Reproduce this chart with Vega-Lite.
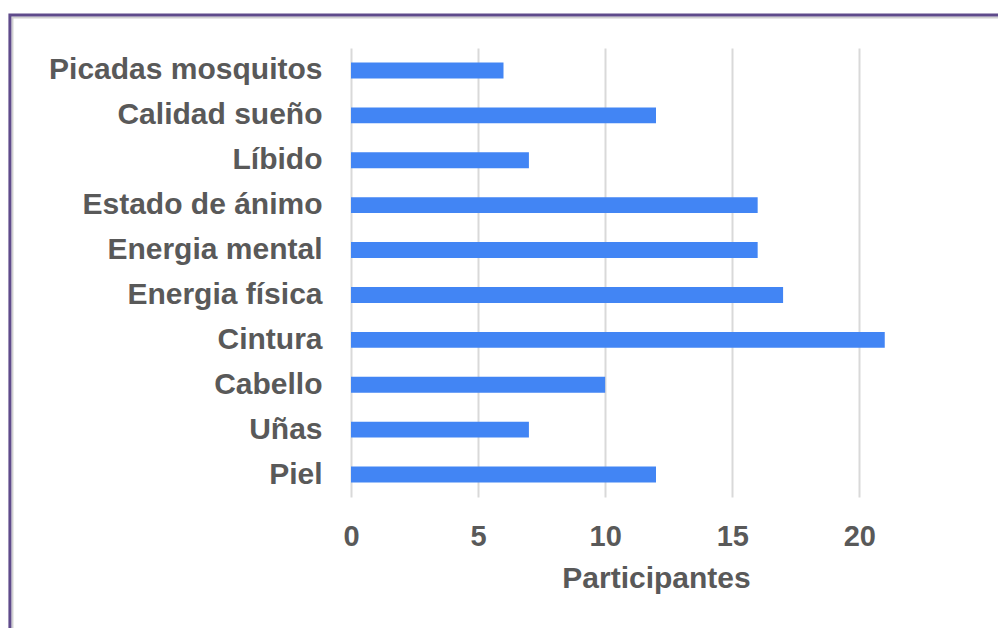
{
  "$schema": "https://vega.github.io/schema/vega-lite/v6.json",
  "width": 610,
  "height": 449,
  "autosize": {"type": "none"},
  "padding": {"left": 351, "top": 48, "right": 37, "bottom": 131},
  "background": "white",
  "config": {
    "view": {"stroke": null},
    "font": "Liberation Sans"
  },
  "data": {
    "values": [
      {"cat": "Picadas mosquitos", "val": 6},
      {"cat": "Calidad sueño", "val": 12},
      {"cat": "Líbido", "val": 7},
      {"cat": "Estado de ánimo", "val": 16},
      {"cat": "Energia mental", "val": 16},
      {"cat": "Energia física", "val": 17},
      {"cat": "Cintura", "val": 21},
      {"cat": "Cabello", "val": 10},
      {"cat": "Uñas", "val": 7},
      {"cat": "Piel", "val": 12}
    ]
  },
  "layer": [
    {
      "mark": {"type": "bar", "color": "#4285f4", "height": {"band": 0.355}},
      "encoding": {
        "y": {
          "field": "cat", "type": "nominal", "sort": null,
          "scale": {"paddingInner": 0, "paddingOuter": 0},
          "axis": {
            "title": null, "domain": false, "ticks": false, "grid": false,
            "labelFont": "Liberation Sans", "labelFontWeight": "bold",
            "labelFontSize": 30, "labelColor": "#595959", "labelPadding": 29,
            "labelLimit": 400
          }
        },
        "x": {
          "field": "val", "type": "quantitative",
          "scale": {"domain": [0, 24], "nice": false},
          "axis": {
            "values": [0, 5, 10, 15, 20],
            "title": "Participantes",
            "domain": false, "ticks": false, "labelFlush": false,
            "grid": true, "gridColor": "#d9d9d9", "gridWidth": 2,
            "labelFont": "Liberation Sans", "labelFontWeight": "bold",
            "labelFontSize": 29, "labelColor": "#595959", "labelPadding": 25,
            "titleFont": "Liberation Sans", "titleFontWeight": "bold",
            "titleFontSize": 30, "titleColor": "#595959", "titlePadding": 12
          }
        }
      }
    },
    {
      "data": {"values": [{"a": 1}]},
      "mark": {"type": "rect", "fill": null, "stroke": "#d0d0d0", "strokeWidth": 2, "clip": false},
      "encoding": {
        "x": {"datum": -13.32, "type": "quantitative"},
        "x2": {"datum": 45},
        "y": {"datum": "Picadas mosquitos", "bandPosition": -0.679},
        "y2": {"datum": "Piel", "bandPosition": 5}
      }
    },
    {
      "data": {"values": [{"a": 1}]},
      "mark": {"type": "rect", "fill": null, "stroke": "#5f4b8b", "strokeWidth": 3, "clip": false},
      "encoding": {
        "x": {"datum": -13.42, "type": "quantitative"},
        "x2": {"datum": 45},
        "y": {"datum": "Picadas mosquitos", "bandPosition": -0.735},
        "y2": {"datum": "Piel", "bandPosition": 5}
      }
    }
  ]
}
